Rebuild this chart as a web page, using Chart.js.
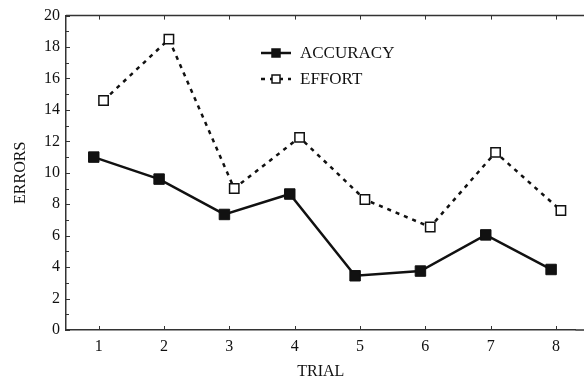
<!DOCTYPE html>
<html lang="en">
<head>
    <meta charset="UTF-8">
    <title>Errors by Trial</title>
    <script src="https://cdn.jsdelivr.net/npm/chart.js"></script>
    <style>
        html, body { margin: 0; padding: 0; background: #fff; overflow: hidden; }
        #wrap { width: 584px; height: 380px; }
    </style>
</head>
<body>
    <div id="wrap"><canvas id="myChart" width="584" height="380"></canvas></div>

    <script>
        // data
        var trials = [1, 2, 3, 4, 5, 6, 7, 8];
        var accuracy = [11.0, 9.6, 7.35, 8.65, 3.45, 3.75, 6.05, 3.85];
        var effort = [14.6, 18.5, 9.0, 12.25, 8.3, 6.55, 11.3, 7.6];
        var yTicks = [0, 2, 4, 6, 8, 10, 12, 14, 16, 18, 20];

        var serif = '"Liberation Serif", "Times New Roman", serif';
        var ink = '#111';

        // the two series are drawn slightly apart so the markers don't overlap
        function pts(vals, shift) {
            return vals.map(function (v, i) { return { x: trials[i] + shift, y: v }; });
        }

        // inward ticks, frame lines running to the canvas edge, and the legend
        var framePlugin = {
            id: 'frame',
            afterDraw: function (chart) {
                var ctx = chart.ctx;
                var a = chart.chartArea;
                var xs = chart.scales.x, ys = chart.scales.y;
                ctx.save();
                ctx.strokeStyle = '#333';
                ctx.lineWidth = 1.5;
                ctx.beginPath();
                ctx.moveTo(a.left, a.top);
                ctx.lineTo(chart.width, a.top);
                ctx.moveTo(a.right, a.bottom);
                ctx.lineTo(chart.width, a.bottom);
                ctx.stroke();

                ctx.lineWidth = 1;
                ctx.beginPath();
                for (var v = 0; v <= 20; v++) {
                    var py = Math.round(ys.getPixelForValue(v)) + 0.5;
                    ctx.moveTo(a.left, py);
                    ctx.lineTo(a.left + (v % 2 ? 3 : 4), py);
                }
                trials.forEach(function (t) {
                    var px = Math.round(xs.getPixelForValue(t)) + 0.5;
                    ctx.moveTo(px, a.top);
                    ctx.lineTo(px, a.top + 4);
                    ctx.moveTo(px, a.bottom);
                    ctx.lineTo(px, a.bottom - 4);
                });
                ctx.stroke();

                // legend
                var rows = [
                    { ds: chart.data.datasets[0], y: 53 },
                    { ds: chart.data.datasets[1], y: 79 }
                ];
                rows.forEach(function (r) {
                    ctx.strokeStyle = ink;
                    ctx.lineWidth = 2.5;
                    ctx.setLineDash(r.ds.borderDash || []);
                    ctx.beginPath();
                    ctx.moveTo(261, r.y);
                    ctx.lineTo(291, r.y);
                    ctx.stroke();
                    ctx.setLineDash([]);
                    ctx.fillStyle = r.ds.pointBackgroundColor;
                    ctx.fillRect(272, r.y - 4, 8, 8);
                    ctx.lineWidth = 1.5;
                    ctx.strokeRect(272, r.y - 4, 8, 8);
                    ctx.fillStyle = ink;
                    ctx.font = '17px ' + serif;
                    ctx.textBaseline = 'middle';
                    ctx.fillText(r.ds.label, 300, r.y + 1);
                });
                ctx.restore();
            }
        };

        var ctx = document.getElementById('myChart').getContext('2d');
        var myChart = new Chart(ctx, {
            type: 'line',
            data: {
                datasets: [{
                    label: 'ACCURACY',
                    data: pts(accuracy, -0.075),
                    borderColor: ink,
                    borderWidth: 2.5,
                    pointStyle: 'rect',
                    pointRadius: 7.4,
                    pointBackgroundColor: ink,
                    pointBorderColor: ink,
                    pointBorderWidth: 1
                }, {
                    label: 'EFFORT',
                    data: pts(effort, 0.075),
                    borderColor: ink,
                    borderWidth: 2.5,
                    borderDash: [4, 5],
                    pointStyle: 'rect',
                    pointRadius: 6.6,
                    pointBackgroundColor: '#fff',
                    pointBorderColor: ink,
                    pointBorderWidth: 1.5
                }]
            },
            options: {
                responsive: false,
                animation: false,
                clip: false,
                layout: { padding: { top: 14, right: 0, left: 0, bottom: 0 } },
                plugins: {
                    legend: { display: false },
                    tooltip: { enabled: false }
                },
                scales: {
                    x: {
                        type: 'linear',
                        min: 0.5,
                        max: 8.3,
                        afterBuildTicks: function (s) {
                            s.ticks = trials.map(function (t) { return { value: t }; });
                        },
                        afterFit: function (s) { s.height = 50; },
                        grid: { display: false, drawTicks: false },
                        border: { display: true, color: '#333', width: 1.5 },
                        ticks: {
                            padding: 7,
                            color: ink,
                            font: { family: serif, size: 16 },
                            maxRotation: 0
                        },
                        title: {
                            display: true,
                            text: 'TRIAL',
                            color: ink,
                            font: { family: serif, size: 16, lineHeight: 1 },
                            padding: { top: 0, bottom: 0 }
                        }
                    },
                    y: {
                        min: 0,
                        max: 20,
                        afterBuildTicks: function (s) {
                            s.ticks = yTicks.map(function (t) { return { value: t }; });
                        },
                        afterFit: function (s) { s.width = 66; },
                        grid: { display: false, drawTicks: false },
                        border: { display: true, color: '#333', width: 1.5 },
                        ticks: {
                            padding: 6,
                            color: ink,
                            font: { family: serif, size: 16 }
                        },
                        title: {
                            display: true,
                            text: 'ERRORS',
                            color: ink,
                            font: { family: serif, size: 16, lineHeight: 1 },
                            padding: { top: 13, bottom: 0 }
                        }
                    }
                }
            },
            plugins: [framePlugin]
        });
    </script>
</body>
</html>
